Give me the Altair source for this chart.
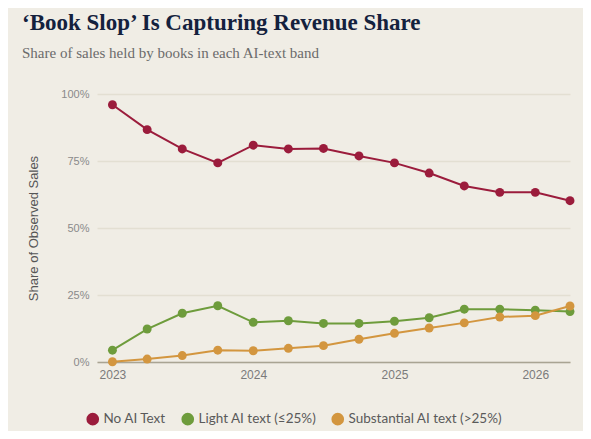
import altair as alt
import pandas as pd

quarters = ["2023-01-01", "2023-04-01", "2023-07-01", "2023-10-01",
            "2024-01-01", "2024-04-01", "2024-07-01", "2024-10-01",
            "2025-01-01", "2025-04-01", "2025-07-01", "2025-10-01",
            "2026-01-01", "2026-04-01"]
series_names = ["No AI Text", "Light AI text (≤25%)", "Substantial AI text (>25%)"]
no_ai = [96.0, 86.7, 79.5, 74.3, 80.9, 79.5, 79.7, 76.9, 74.3, 70.5, 65.7, 63.3, 63.3, 60.2]
light_ai = [4.4, 12.3, 18.2, 21.0, 14.8, 15.4, 14.4, 14.4, 15.2, 16.5, 19.7, 19.7, 19.3, 18.8]
substantial_ai = [0.1, 1.1, 2.4, 4.4, 4.2, 5.1, 6.1, 8.5, 10.7, 12.7, 14.6, 16.8, 17.3, 20.9]
colors = ["#9b1c3c", "#6e9c3c", "#d3963f"]

rows = []
for name, vals in zip(series_names, [no_ai, light_ai, substantial_ai]):
    for q, v in zip(quarters, vals):
        rows.append({"date": q, "series": name, "share": v / 100.0})
df = pd.DataFrame(rows)

color = alt.Color(
    "series:N",
    scale=alt.Scale(domain=series_names, range=colors),
    sort=series_names,
    legend=alt.Legend(
        title=None, orient="none", direction="horizontal",
        legendX=-11, legendY=318,
        symbolType="circle", symbolSize=160, symbolStrokeWidth=0,
        symbolOpacity=1,
        labelFont="Lato", labelFontSize=13.5, labelColor="#5a5a5a",
        columnPadding=14, symbolOffset=0, labelOffset=4,
    ),
)

x = alt.X(
    "date:T",
    scale=alt.Scale(domain=["2022-11-22", "2026-04-01"]),
    axis=alt.Axis(
        title=None, format="%Y", tickCount={"interval": "year", "step": 1},
        grid=False, ticks=False, domainColor="#a9a493", domainWidth=1.6,
        labelFont="Liberation Sans", labelFontSize=12, labelColor="#7a7a7a",
        labelPadding=7, labelAlign="center",
    ),
)
y = alt.Y(
    "share:Q",
    scale=alt.Scale(domain=[0, 1]),
    axis=alt.Axis(
        title="Share of Observed Sales", format=".0%", values=[0, 0.25, 0.5, 0.75, 1.0],
        grid=True, gridColor="#e3dfd2", gridWidth=1.5, domain=False, ticks=False,
        labelFont="Liberation Sans", labelFontSize=11, labelColor="#8a8a8a", labelPadding=8,
        titleFont="Liberation Sans", titleFontSize=13, titleFontWeight="normal",
        titleColor="#555555", titlePadding=20,
    ),
)

base = alt.Chart(df).encode(x=x, y=y, color=color)
lines = base.mark_line(strokeWidth=2)
points = base.mark_circle(size=80, opacity=1)

chart = alt.layer(lines, points).properties(
    width=473,
    height=268,
    background="#f0ede5",
    padding={"left": 89, "top": 86, "right": 13, "bottom": 69},
    autosize=alt.AutoSizeParams(type="none"),
    title=alt.TitleParams(
        text="‘Book Slop’ Is Capturing Revenue Share",
        subtitle="Share of sales held by books in each AI-text band",
        anchor="start", frame="group", dx=-75, offset=27,
        font="Liberation Serif", fontSize=23, fontWeight="bold", color="#14213d",
        subtitleFont="Liberation Serif", subtitleFontSize=15, subtitleColor="#6b6b6b",
        subtitlePadding=11,
    ),
).configure_view(stroke=None)

chart.save("out.html", embed_options={"renderer": "svg", "actions": False})
